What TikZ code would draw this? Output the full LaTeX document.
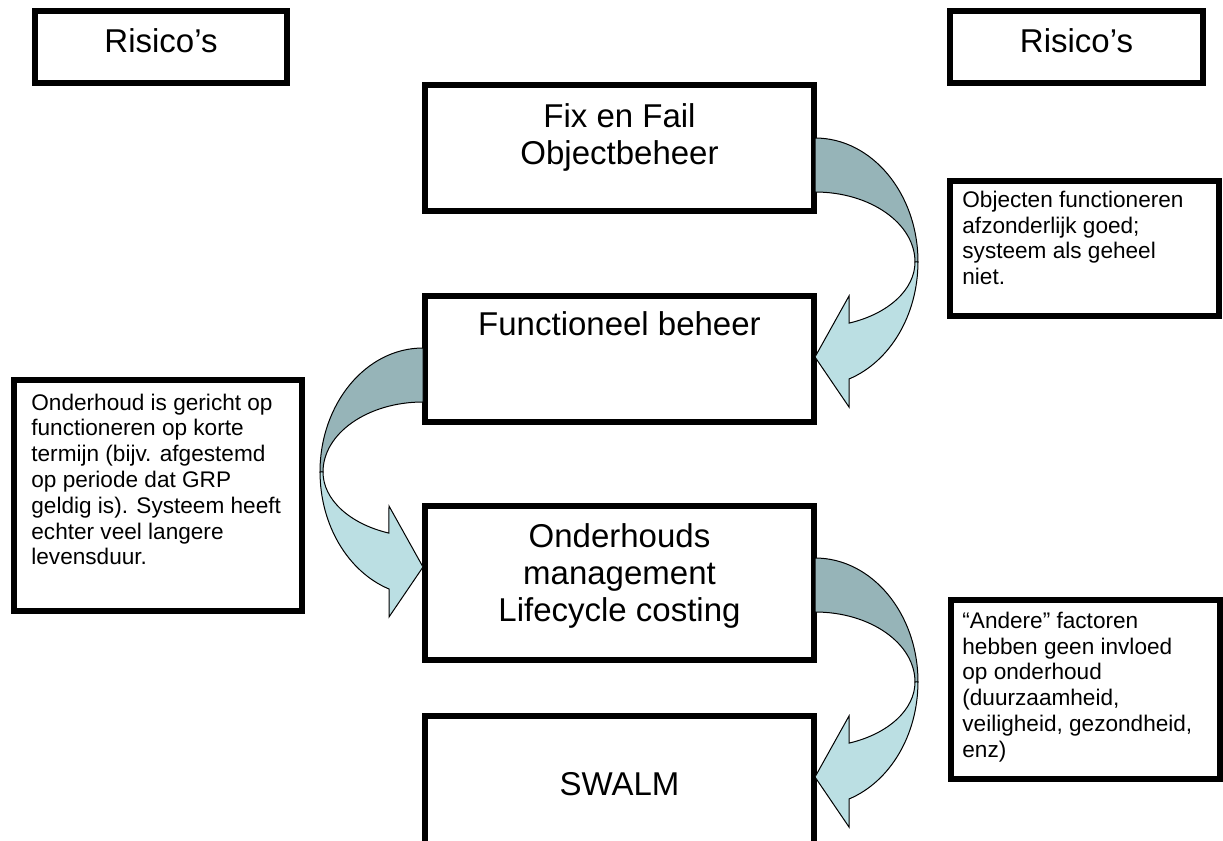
\documentclass[tikz,border=0pt]{standalone}
\usepackage{fontspec}
\setmainfont{Liberation Sans}
\definecolor{donker}{RGB}{150,180,184}
\definecolor{licht}{RGB}{187,223,227}
\tikzset{
  kader/.style={draw,line width=3pt,inner sep=0pt,fill=white},
  groot/.style={font=\fontsize{16.5}{18.5}\selectfont,align=center,inner sep=0pt},
  klein/.style={font=\fontsize{11.3}{12.9}\selectfont,align=left,anchor=north west,inner sep=0pt},
  bocht/.pic={
    \draw[fill=donker,line width=0.5pt](0,0) arc[start angle=-90,end angle=0,x radius=103,y radius=124]--(100,124) arc[start angle=0,end angle=-90,x radius=100,y radius=70]--cycle;
    \draw[fill=licht,line width=0.5pt](100,124) arc[start angle=0,end angle=70.1,x radius=100,y radius=65]--(34,158)--(0,219)--(34,269)--(34,241) arc[start angle=70.7,end angle=0,x radius=103,y radius=124]--cycle;
  }
}
\begin{document}
\begin{tikzpicture}[x=0.5pt,y=-0.5pt]
    \useasboundingbox(0,0) rectangle (1223,841);
    % kaders
    \node[kader,minimum width=126pt,minimum height=36pt](risL) at (161,47){};
    \node[kader,minimum width=126.5pt,minimum height=36pt](risR) at (1076.5,47){};
    \node[kader,minimum width=194.5pt,minimum height=63pt](fix) at (619.5,148){};
    \node[kader,minimum width=194.5pt,minimum height=63pt](func) at (619.5,359){};
    \node[kader,minimum width=194.5pt,minimum height=77pt](ond) at (619.5,583){};
    \node[kader,minimum width=194.5pt,minimum height=67pt](swalm) at (619.5,783){};
    \node[kader,minimum width=134.5pt,minimum height=67.5pt](uitleg1) at (1084.5,248.5){};
    \node[kader,minimum width=144pt,minimum height=115.5pt](uitleg2) at (158,495.5){};
    \node[kader,minimum width=134.5pt,minimum height=89.5pt](uitleg3) at (1085.5,689.5){};
    % pijlen
    \pic at (815,138){bocht};
    \pic[xscale=-1] at (423,348){bocht};
    \pic at (815,558){bocht};
    % teksten
    \node[groot,anchor=base](risLtekst) at (161,52){Risico’s};
    \node[groot,anchor=base](risRtekst) at (1076.5,52){Risico’s};
    \node[groot,anchor=north](fixtekst) at (619.5,103.4){Fix en Fail\\Objectbeheer};
    \node[groot,anchor=base](functekst) at (619.5,335){Functioneel beheer};
    \node[groot,anchor=north](ondtekst) at (619.5,522.7){Onderhouds\\management\\Lifecycle costing};
    \node[groot,anchor=base](swalmtekst) at (619.5,795){SWALM};
    \node[klein](uitleg1tekst) at (962,190.5){Objecten functioneren\\afzonderlijk goed;\\systeem als geheel\\niet.};
    \node[klein](uitleg2tekst) at (31,393.3){Onderhoud is gericht op\\functioneren op korte\\termijn (bijv. afgestemd\\op periode dat GRP\\geldig is). Systeem heeft\\echter veel langere\\levensduur.};
    \node[klein](uitleg3tekst) at (962,611.5){“Andere” factoren\\hebben geen invloed\\op onderhoud\\(duurzaamheid,\\veiligheid, gezondheid,\\enz)};
\end{tikzpicture}
\end{document}
